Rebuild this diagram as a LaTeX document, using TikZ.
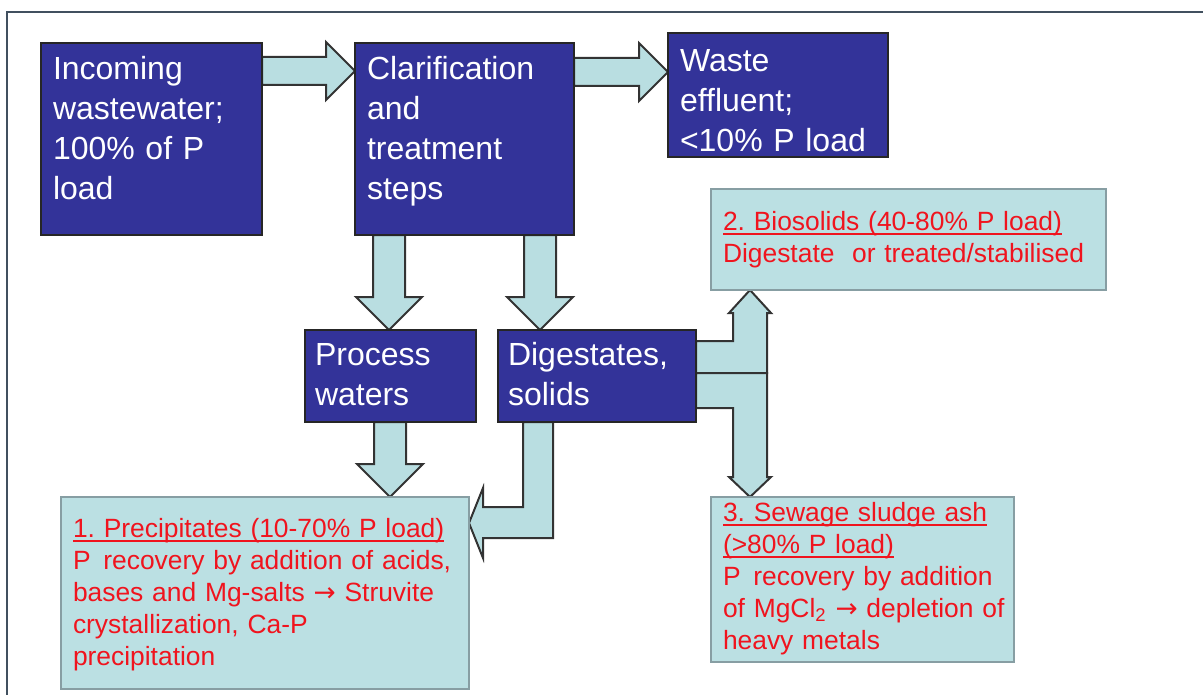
\documentclass[tikz,border=0pt]{standalone}
\usepackage{fontspec}
\setmainfont{Liberation Sans}
\newfontfamily\symfont{DejaVu Sans}
\usetikzlibrary{calc}
\usetikzlibrary{backgrounds}
\usetikzlibrary{positioning}

\definecolor{procblue}{RGB}{51,51,153}
\definecolor{flowcyan}{RGB}{185,222,225}
\definecolor{recovcyan}{RGB}{187,224,227}
\definecolor{recovred}{RGB}{240,20,30}
\definecolor{boxedge}{RGB}{135,158,163}
\definecolor{framegray}{RGB}{65,80,95}

%% heading underline, close to the baseline
\newcommand{\headline}[1]{\leavevmode\setbox0\hbox{#1}\rlap{\rule[-2.4pt]{\wd0}{0.9pt}}\box0}

\frenchspacing
\begin{document}
\begin{tikzpicture}[x=0.5pt,y=-0.5pt,
    bluebox/.style={draw=black!85, line width=1pt, fill=procblue, text=white,
      anchor=north west, align=left, inner xsep=6pt, inner ysep=0pt, outer sep=0pt,
      font=\fontsize{16}{20}\selectfont},
    redbox/.style={draw=boxedge, line width=0.8pt, fill=recovcyan, text=recovred,
      anchor=north west, align=left, inner xsep=6pt, inner ysep=0pt, outer sep=0pt,
      font=\fontsize{13.2}{16}\selectfont},
    flow/.style={draw=black!80, line width=1pt, fill=flowcyan, line join=miter}]
%% Block arrows
%% 2 params : start (centre of the tail), tip. Both on one line.
\newcommand{\hblock}[2]{
\draw[flow] ($(#1)+(0,-14)$) -- ($(#2)+(-29,-14)$) -- ($(#2)+(-29,-29)$)
-- (#2) -- ($(#2)+(-29,29)$) -- ($(#2)+(-29,14)$) -- ($(#1)+(0,14)$) -- cycle;
}
\newcommand{\vblock}[2]{
\draw[flow] ($(#1)+(-16,0)$) -- ($(#2)+(-16,-33)$) -- ($(#2)+(-33,-33)$)
-- (#2) -- ($(#2)+(33,-33)$) -- ($(#2)+(16,-33)$) -- ($(#1)+(16,0)$) -- cycle;
}

      \useasboundingbox (0,0) rectangle (1203,695);
      \draw[framegray, line width=1pt] (7,695) -- (7,12) -- (1203,12);

      % the treatment line
      \node[bluebox, text width=98.5pt, text height=18.5pt, text depth=77.5pt] (inc) at (41,43)
        {Incoming\\ wastewater;\\ 100\% of P\\ load};
      \node[bluebox, text width=97.5pt, text height=18.5pt, text depth=77.5pt] (clar) at (355,43)
        {Clarification\\ and\\ treatment\\ steps};
      \node[bluebox, text width=98pt, text height=19.5pt, text depth=42.5pt] (waste) at (668,33)
        {Waste\\ effluent;\\ <10\% P load};
      \node[bluebox, inner xsep=5pt, text width=75.5pt, text height=17.5pt, text depth=28.5pt] (proc) at (305,330)
        {Process\\ waters};
      \node[bluebox, inner xsep=5pt, text width=89pt, text height=17.5pt, text depth=28.5pt] (dig) at (498,330)
        {Digestates,\\ solids};

      % recovery routes
      \node[redbox, text width=185.5pt, text height=20.5pt, text depth=30pt] (bio) at (711,189)
        {\headline{2. Biosolids (40-80\% P load)}\\ Digestate~ or treated/stabilised};
      \node[redbox, text width=192pt, text height=20pt, text depth=76pt] (prec) at (61,497)
        {\headline{1. Precipitates (10-70\% P load)}\\ P\hspace{0.15em} recovery by addition of acids,\\
         bases and Mg-salts {\symfont →} Struvite\\ crystallization, Ca-P\\ precipitation};
      \node[redbox, text width=139.5pt, text height=12pt, text depth=70.5pt] (sew) at (711,497)
        {\headline{3. Sewage sludge ash}\\ \headline{(>80\% P load)}\\ P\hspace{0.15em} recovery by addition\\
         \mbox{of MgCl\textsubscript{2} {\symfont →} depletion of}\\ heavy metals};

      \coordinate (ic) at ($(inc.north east)+(0,28)$);
      \coordinate (ci) at (ic -| clar.west);
      \coordinate (cw) at ($(clar.north east)+(0,29)$);
      \coordinate (wc) at (cw -| waste.west);
      \coordinate (cp) at ($(clar.south west)+(34,0)$);
      \coordinate (pc) at (cp |- proc.north);
      \coordinate (cd) at ($(clar.south west)+(185,0)$);
      \coordinate (dc) at (cd |- dig.north);
      \coordinate (pp) at ($(proc.south west)+(85,0)$);
      \coordinate (pr) at (pp |- prec.north);
      \coordinate (dp) at ($(dig.south west)+(40,0)$);
      \coordinate (pd) at ($(prec.north east)+(0,26)$);
      \coordinate (tb) at ($(dig.north east)+(54,43)$);
      \coordinate (tbio) at (tb |- bio.south);
      \coordinate (tsew) at (tb |- sew.north);

      \begin{scope}[on background layer]
      \hblock{ic}{ci};
      \hblock{cw}{wc};
      \vblock{cp}{pc};
      \vblock{cd}{dc};
      \vblock{pp}{pr};
      % digestates round to the precipitates
      \draw[flow] ($(dp)+(-15,0)$) -- ($(dp |- pd)+(-15,-16)$) -- ($(pd)+(14,-16)$)
        -- ($(pd)+(14,-35)$) -- (pd) -- ($(pd)+(14,35)$) -- ($(pd)+(14,15)$)
        -- ($(dp |- pd)+(15,15)$) -- ($(dp)+(15,0)$) -- cycle;
      % up to the biosolids
      \draw[flow] ($(dig.north east)+(0,11)$) -- ($(tb)+(-17,-32)$) -- ($(tbio)+(-17,23)$)
        -- ($(tbio)+(-21,23)$) -- (tbio) -- ($(tbio)+(21,23)$) -- ($(tbio)+(17,23)$)
        -- ($(tb)+(17,0)$) -- ($(dig.north east)+(0,43)$) -- cycle;
      % down to the ash
      \draw[flow] ($(dig.north east)+(0,43)$) -- ($(tb)+(17,0)$) -- ($(tsew)+(17,-20)$)
        -- ($(tsew)+(21,-20)$) -- (tsew) -- ($(tsew)+(-21,-20)$) -- ($(tsew)+(-17,-20)$)
        -- ($(tb)+(-17,35)$) -- ($(dig.north east)+(0,78)$) -- cycle;
      \end{scope}
    \end{tikzpicture}
\end{document}
